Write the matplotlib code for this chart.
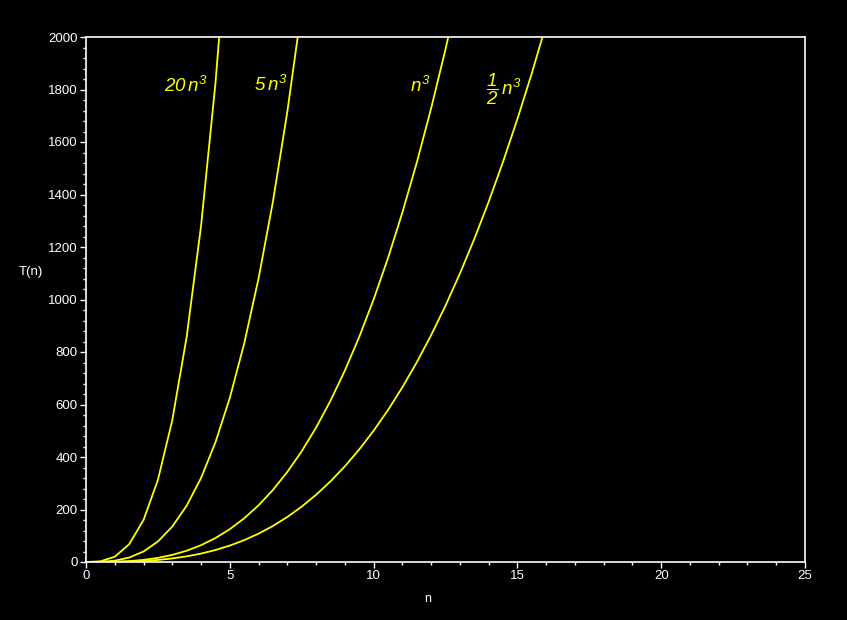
import matplotlib
matplotlib.use("Agg")
from matplotlib import pyplot as plt
from matplotlib.ticker import MultipleLocator

# sample points of n (Maple style step 0.5)
n = [0, 0.5, 1, 1.5, 2, 2.5, 3, 3.5, 4, 4.5, 5, 5.5, 6, 6.5, 7, 7.5, 8,
     8.5, 9, 9.5, 10, 10.5, 11, 11.5, 12, 12.5, 13, 13.5, 14, 14.5, 15,
     15.5, 16]

# T(n) values read per curve (cut after they leave the 0..2000 window)
t_20n3 = [0, 2.5, 20, 67.5, 160, 312.5, 540, 857.5, 1280, 1822.5, 2500]
t_5n3 = [0, 0.625, 5, 16.875, 40, 78.125, 135, 214.375, 320, 455.625,
         625, 831.875, 1080, 1373.125, 1715, 2109.375]
t_n3 = [0, 0.125, 1, 3.375, 8, 15.625, 27, 42.875, 64, 91.125, 125,
        166.375, 216, 274.625, 343, 421.875, 512, 614.125, 729, 857.375,
        1000, 1157.625, 1331, 1520.875, 1728, 1953.125, 2197]
t_half_n3 = [0, 0.0625, 0.5, 1.6875, 4, 7.8125, 13.5, 21.4375, 32, 45.5625,
             62.5, 83.1875, 108, 137.3125, 171.5, 210.9375, 256, 307.0625,
             364.5, 428.6875, 500, 578.8125, 665.5, 760.4375, 864, 976.5625,
             1098.5, 1230.1875, 1372, 1524.3125, 1687.5, 1861.4375, 2048]

SERIES = [t_20n3, t_5n3, t_n3, t_half_n3]
ETIQUETAS = [r'$20\,n^3$', r'$5\,n^3$', r'$n^3$', r'$\dfrac{1}{2}\,n^3$']
POS_ETIQUETAS = [(3.48, 1812), (6.43, 1818), (11.62, 1814), (14.55, 1800)]

plt.rcParams['font.family'] = ['Liberation Sans', 'DejaVu Sans']
plt.rcParams['mathtext.fontset'] = 'custom'
plt.rcParams['mathtext.rm'] = 'Liberation Sans:italic'
plt.rcParams['mathtext.it'] = 'Liberation Sans:italic'
plt.rcParams['mathtext.bf'] = 'Liberation Sans:italic:bold'

fig = plt.figure(figsize=(8.47, 6.2), dpi=100, facecolor='black')
ax = fig.add_axes([86 / 847, 58 / 620, 719 / 847, 525 / 620])
ax.set_facecolor('black')

for serie in SERIES:
    ax.plot(n[:len(serie)], serie, color='#ffff00', lw=1.3)

for texto, (x, y) in zip(ETIQUETAS, POS_ETIQUETAS):
    ax.text(x, y, texto, color='#ffff00', fontsize=13.5,
            ha='center', va='center')

ax.set_xlim(0, 25)
ax.set_ylim(0, 2000)
ax.xaxis.set_major_locator(MultipleLocator(5))
ax.xaxis.set_minor_locator(MultipleLocator(1))
ax.yaxis.set_major_locator(MultipleLocator(200))
ax.yaxis.set_minor_locator(MultipleLocator(40))

for s in ax.spines.values():
    s.set_color('white')
    s.set_linewidth(1.2)

ax.tick_params(which='both', colors='white', direction='out', labelsize=9.5,
               width=1)
ax.tick_params(which='major', length=4, pad=2)
ax.tick_params(which='minor', length=2.5)

ax.set_xlabel('n', color='white', fontsize=9)
ax.xaxis.set_label_coords(0.4757, -0.059)
ax.set_ylabel('T(n)', color='white', fontsize=9.5, rotation=0,
              va='center', ha='center')
ax.yaxis.set_label_coords(-0.0765, 0.552)

fig.savefig('out.png', dpi=100, facecolor='black')
